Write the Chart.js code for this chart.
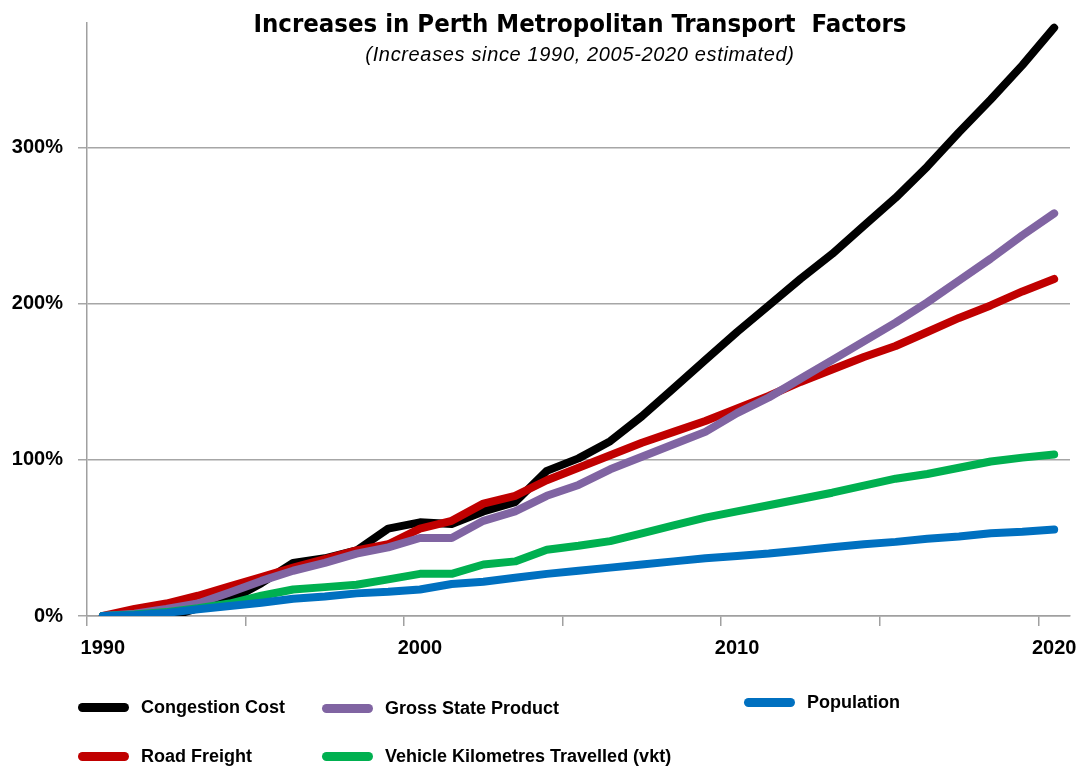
<!DOCTYPE html>
<html>
<head>
<meta charset="utf-8">
<script src="https://cdn.jsdelivr.net/npm/chart.js@4.4.1/dist/chart.umd.min.js"></script>
<style>
    body { margin: 0; background: #fff; }
    #wrap { position: relative; width: 1081px; height: 769px; }
    #title {
        position: absolute; left: 580px; top: 9px; transform: translateX(-50%);
        font: bold 25.5px 'DejaVu Sans Condensed', 'Liberation Sans', sans-serif;
        line-height: 28px; white-space: pre; color: #000;
    }
    #subtitle {
        position: absolute; left: 580px; top: 44px; transform: translateX(-50%);
        font: italic 20px 'Liberation Sans', sans-serif; letter-spacing: 0.65px;
        line-height: 20px; white-space: pre; color: #000;
    }
    .legend-item {
        position: absolute; display: flex; align-items: center;
        font: bold 18px 'Liberation Sans', sans-serif; color: #000; white-space: pre;
    }
    .legend-item span.swatch {
        display: inline-block; width: 51px; height: 9px; border-radius: 4.5px; margin-right: 12px;
    }
</style>
</head>
<body>
<div id="wrap">
    <canvas id="transportChart" width="1081" height="769"></canvas>
    <div id="title">Increases in Perth Metropolitan Transport  Factors</div>
    <div id="subtitle">(Increases since 1990, 2005-2020 estimated)</div>
    <div id="legend"></div>
</div>
<script>
const years = [];
for (let y = 1990; y <= 2020; y++) years.push(String(y));

const yTicks = [0, 100, 200, 300];

// percent increase since 1990
const congestionCost = [0, -1, -1, 5, 10, 21, 34, 37, 42, 56, 60, 59, 67, 73, 93, 101, 112, 128, 146, 164, 182, 199, 216, 232, 250, 268, 288, 310, 331, 353, 377];
const roadFreight = [0, 4.5, 8, 13, 19, 25, 31, 36.5, 42, 46, 56, 61, 72, 77, 87, 95, 103, 111, 118, 125, 133, 141, 150, 158, 166, 173, 182, 191, 199, 208, 216];
const grossStateProduct = [0, 1.5, 4.5, 8, 15, 22.5, 29, 34, 40, 44, 50, 50, 61, 67, 77, 84, 94, 102, 110, 118, 130, 140, 152, 164, 176, 188, 201, 215, 229, 244, 258];
const vkt = [0, 1, 2.5, 5, 8, 13, 17, 18.5, 20, 23.5, 27, 27, 33, 35, 42.5, 45, 48, 53, 58, 63, 67, 71, 75, 79, 83.5, 88, 91, 95, 99, 101.5, 103.5];
const population = [0, 0.6, 2, 4.3, 6.4, 8.5, 11, 12.5, 14.5, 15.5, 17, 20.5, 22, 24.5, 27, 29, 31, 33, 35, 37, 38.5, 40, 42, 44, 46, 47.5, 49.5, 51, 53, 54, 55.5];

const FONT = "'Liberation Sans', Arial, sans-serif";

function makeLine(label, data, color, order) {
    return {
        label: label,
        data: data,
        borderColor: color,
        backgroundColor: color,
        borderWidth: 8,
        borderCapStyle: 'round',
        borderJoinStyle: 'round',
        pointRadius: 0,
        tension: 0,
        fill: false,
        order: order
    };
}

const datasets = [
    makeLine('Congestion Cost', congestionCost, '#000000', 5),
    makeLine('Gross State Product', grossStateProduct, '#8064A2', 3),
    makeLine('Population', population, '#0070C0', 1),
    makeLine('Road Freight', roadFreight, '#C00000', 4),
    makeLine('Vehicle Kilometres Travelled (vkt)', vkt, '#00B050', 2)
];

// legend spots as in the original (left, top)
const legendPos = [[78, 697], [322, 698], [744, 692], [78, 746], [322, 746]];

function renderLegend() {
    const box = document.getElementById('legend');
    datasets.forEach((ds, i) => {
        const item = document.createElement('div');
        item.className = 'legend-item';
        item.style.left = legendPos[i][0] + 'px';
        item.style.top = legendPos[i][1] + 'px';
        const sw = document.createElement('span');
        sw.className = 'swatch';
        sw.style.background = ds.borderColor;
        item.appendChild(sw);
        item.appendChild(document.createTextNode(ds.label));
        box.appendChild(item);
    });
}

function noAxisPadding(s) {
    s.paddingLeft = 0;
    s.paddingRight = 0;
    s.paddingTop = 0;
    s.paddingBottom = 0;
}

const ctx = document.getElementById('transportChart').getContext('2d');
const transportChart = new Chart(ctx, {
    type: 'line',
    data: { labels: years, datasets: datasets },
    options: {
        responsive: false,
        animation: false,
        layout: { padding: { top: 23, right: 11, bottom: 93, left: 0 } },
        plugins: {
            legend: { display: false },
            tooltip: { enabled: false }
        },
        scales: {
            x: {
                type: 'category',
                offset: true,
                grid: {
                    offset: true,
                    drawOnChartArea: false,
                    tickLength: 10,
                    lineWidth: 1.5,
                    color: c => (c.index !== undefined && c.index % 5 === 0) ? '#a0a0a0' : 'rgba(0,0,0,0)'
                },
                border: { color: '#a0a0a0', width: 1.5 },
                ticks: {
                    autoSkip: false,
                    maxRotation: 0,
                    padding: 10,
                    color: '#000',
                    font: { family: FONT, size: 20, weight: 'bold' },
                    callback: function (v, i) {
                        const y = years[i];
                        return Number(y) % 10 === 0 ? y : '';
                    }
                },
                afterFit: s => { s.height = 60; noAxisPadding(s); }
            },
            y: {
                min: 0,
                max: 380,
                afterBuildTicks: s => { s.ticks = yTicks.map(v => ({ value: v })); },
                grid: { color: '#a6a6a6', lineWidth: 1.5, tickLength: 9 },
                border: { color: '#a0a0a0', width: 1.5 },
                ticks: {
                    padding: 15,
                    color: '#000',
                    font: { family: FONT, size: 20, weight: 'bold' },
                    callback: v => v + '%'
                },
                afterFit: s => { s.width = 87; noAxisPadding(s); }
            }
        }
    }
});

renderLegend();
</script>
</body>
</html>
